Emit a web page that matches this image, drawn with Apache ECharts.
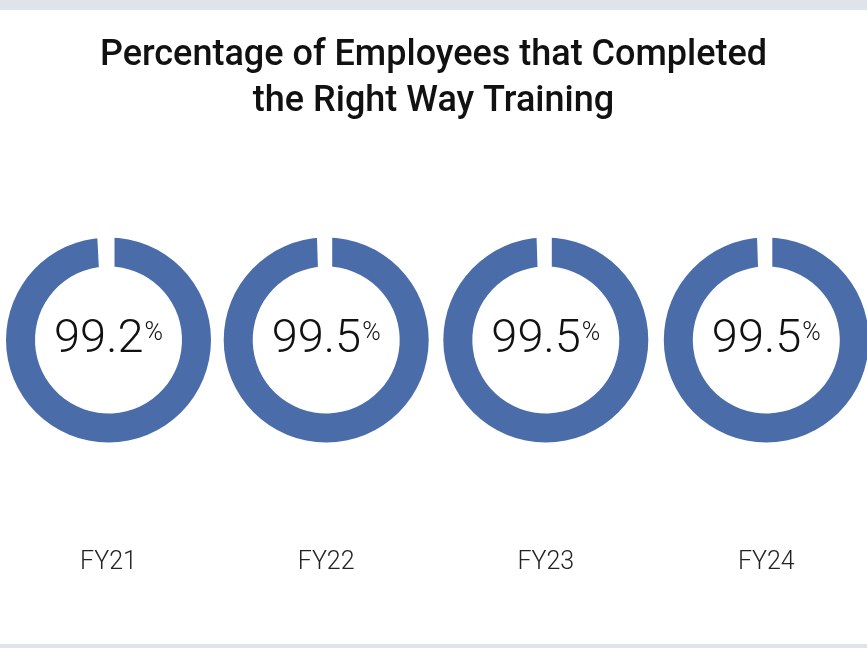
<!DOCTYPE html>
<html>
<head>
<meta charset="utf-8">
<script src="https://cdn.jsdelivr.net/npm/echarts@6/dist/echarts.min.js"></script>
<style>
  html, body { margin: 0; padding: 0; background: #fff; }
  #donut-container { width: 867px; height: 648px; }
</style>
</head>
<body>
<div id="donut-container"></div>
<script>
// data
var years = ['FY21', 'FY22', 'FY23', 'FY24'];
var completed = [99.2, 99.5, 99.5, 99.5];

// layout: ring centres in px
var ringX = [108.5, 326.2, 545.8, 766.3];
var ringY = 340;

var myChart = echarts.init(document.getElementById('donut-container'));

var series = years.map(function (year, i) {
  return {
    type: 'pie',
    name: year,
    center: [ringX[i], ringY],
    radius: [73.5, 102.5],
    startAngle: 90,
    silent: true,
    animation: false,
    label: {
      show: true,
      position: 'center',
      formatter: '{v|' + completed[i] + '}{p|%}',
      rich: {
        v: { fontFamily: 'Roboto', fontWeight: 300, fontSize: 47, color: '#111', lineHeight: 48 },
        p: { fontFamily: 'Roboto', fontWeight: 300, fontSize: 25, color: '#111', padding: [0, 0, 12, 1] }
      }
    },
    labelLine: { show: false },
    data: [
      { value: completed[i], name: year, itemStyle: { color: '#4a6daa' } },
      {
        value: +(100 - completed[i]).toFixed(1),
        name: 'rest',
        label: { show: false },
        itemStyle: { color: 'rgba(0,0,0,0)', borderColor: '#fff', borderWidth: 12 }
      }
    ]
  };
});

var graphics = [
  { type: 'rect', shape: { x: 0, y: 0, width: 867, height: 10 }, style: { fill: '#dfe3ea' } },
  { type: 'rect', shape: { x: 0, y: 644, width: 867, height: 4 }, style: { fill: '#dfe3ea' } }
];
years.forEach(function (year, i) {
  graphics.push({
    type: 'text',
    x: ringX[i],
    y: 563,
    style: {
      text: year,
      align: 'center',
      verticalAlign: 'middle',
      fontFamily: 'Roboto',
      fontWeight: 300,
      fontSize: 25,
      fill: '#222'
    }
  });
});

myChart.setOption({
  title: {
    text: 'Percentage of Employees that Completed\nthe Right Way Training',
    left: 'center',
    top: 28,
    textStyle: {
      fontFamily: 'Roboto',
      fontWeight: 500,
      fontSize: 36,
      lineHeight: 46,
      color: '#111'
    }
  },
  graphic: graphics,
  series: series
});
</script>
</body>
</html>
